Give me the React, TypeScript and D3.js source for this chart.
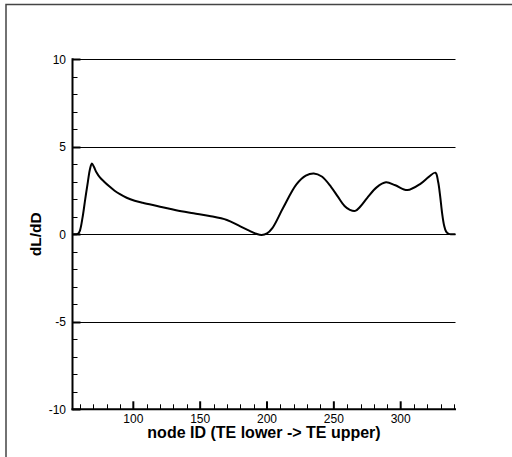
import React from "react";
import * as d3 from "d3";

const nodes = [55, 57, 58.5, 60, 62, 64, 66, 67.5, 69, 70.5, 72.5, 75, 78, 82, 86, 90, 95, 101, 107, 120, 132, 145, 157, 170, 180, 187, 192, 196, 200, 204, 212, 222, 229, 235, 241, 248, 253, 258, 262, 266, 270, 275, 282, 289, 296, 305, 315, 321, 326, 328, 329.5, 331, 332.5, 334, 336, 338, 341];
const values = [0, 0, 0.02, 0.2, 0.95, 2.0, 3.0, 3.7, 4.05, 3.86, 3.53, 3.25, 3.02, 2.74, 2.49, 2.29, 2.09, 1.92, 1.8, 1.58, 1.37, 1.2, 1.05, 0.82, 0.45, 0.2, 0.03, -0.04, 0.05, 0.35, 1.5, 2.85, 3.35, 3.48, 3.3, 2.7, 2.15, 1.62, 1.4, 1.34, 1.6, 2.08, 2.68, 2.97, 2.8, 2.53, 2.9, 3.28, 3.52, 3.0, 2.2, 1.2, 0.5, 0.15, 0.02, 0, 0];

const xMajorTicks = [100, 150, 200, 250, 300];
const yMajorTicks = [-10, -5, 0, 5, 10];
const gridValues = [-5, 0, 5, 10];
const xTitle = "node ID (TE lower -> TE upper)";
const yTitle = "dL/dD";

export default function App() {
  const W = 512, H = 457;
  const x = d3.scaleLinear().domain([54.5, 341]).range([72.5, 455.5]);
  const y = d3.scaleLinear().domain([-10, 10]).range([409.3, 59.3]);
  const x0 = x.range()[0], x1 = x.range()[1];
  const yb = y(-10), yt = y(10);
  const xMinor = d3.range(60, 341, 10).filter((v) => v % 50 !== 0);
  const yMinor = d3.range(-10, 10.5, 1).filter((v) => v % 5 !== 0);
  const line = d3
    .line<number>()
    .x((_, i) => x(nodes[i]))
    .y((d) => y(d))
    .curve(d3.curveCatmullRom.alpha(0.5));
  const font = "Arial, 'Liberation Sans', sans-serif";
  return (
    <svg width={W} height={H} style={{ position: "fixed", left: 0, top: 0, background: "#fff" }} fontFamily={font}>
      <rect x={0} y={0} width={W} height={H} fill="#fff" />
      <rect x={6} y={4.5} width={700} height={700} fill="none" stroke="#444" strokeWidth={1.5} />
      {gridValues.map((v) => (
        <line key={"g" + v} x1={x0} x2={x1} y1={Math.round(y(v)) + 0.5} y2={Math.round(y(v)) + 0.5} stroke="#000" strokeWidth={1} />
      ))}
      {yMinor.map((v) => (
        <line key={"ym" + v} x1={x0} x2={x0 + 5} y1={Math.round(y(v)) + 0.5} y2={Math.round(y(v)) + 0.5} stroke="#000" strokeWidth={1} />
      ))}
      {yMajorTicks.map((v) => (
        <line key={"yM" + v} x1={x0} x2={x0 + 8} y1={Math.round(y(v)) + 0.5} y2={Math.round(y(v)) + 0.5} stroke="#000" strokeWidth={2} />
      ))}
      {xMinor.map((v) => (
        <line key={"xm" + v} x1={Math.round(x(v)) + 0.5} x2={Math.round(x(v)) + 0.5} y1={yb} y2={yb - 5} stroke="#000" strokeWidth={1} />
      ))}
      {xMajorTicks.map((v) => (
        <line key={"xM" + v} x1={x(v)} x2={x(v)} y1={yb} y2={yb - 8} stroke="#000" strokeWidth={2} />
      ))}
      <line x1={x0} x2={x0} y1={yt - 1} y2={yb + 1} stroke="#000" strokeWidth={2} />
      <line x1={x0 - 1} x2={x1 + 0.5} y1={yb} y2={yb} stroke="#000" strokeWidth={2} />
      <path d={line(values) || ""} fill="none" stroke="#000" strokeWidth={2} strokeLinejoin="round" />
      {yMajorTicks.map((v) => (
        <text key={"yl" + v} x={66} y={y(v)} dy="0.35em" textAnchor="end" fontSize={12} fill="#000">
          {v}
        </text>
      ))}
      {xMajorTicks.map((v) => (
        <text key={"xl" + v} x={x(v)} y={422.5} textAnchor="middle" fontSize={12} fill="#000">
          {v}
        </text>
      ))}
      <text x={(x0 + x1) / 2} y={438} textAnchor="middle" fontSize={16} fontWeight="bold" fill="#000">
        {xTitle}
      </text>
      <text transform={`translate(41,${y(0)}) rotate(-90)`} textAnchor="middle" fontSize={15.5} fontWeight="bold" fill="#000">
        {yTitle}
      </text>
    </svg>
  );
}
